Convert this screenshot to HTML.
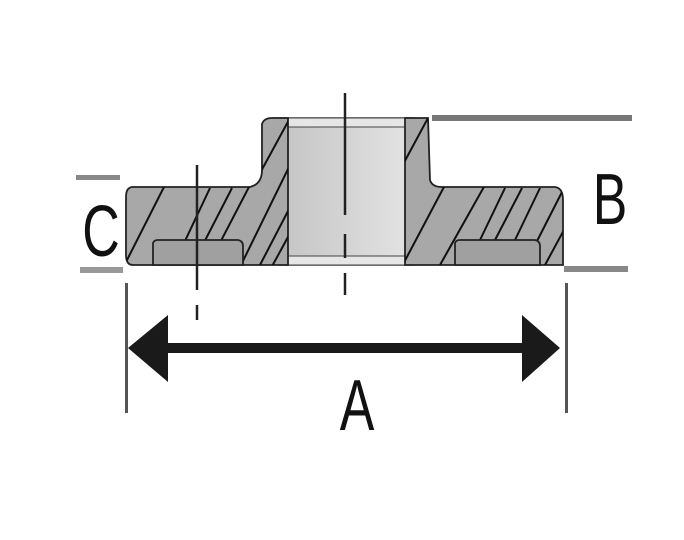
<!DOCTYPE html>
<html><head><style>html,body{margin:0;padding:0;background:#fff}svg{display:block}</style></head><body>
<svg width="684" height="540" viewBox="0 0 684 540" xmlns="http://www.w3.org/2000/svg">
<defs>
<linearGradient id="bore" x1="0" x2="1"><stop offset="0" stop-color="#c4c4c4"/><stop offset="1" stop-color="#e4e4e4"/></linearGradient>
<clipPath id="bodyclip"><path d="M133,187 L250,187 Q262,184 262,170 L262,124 Q264,118 272,118 L288,118 L288,265 L133,265 Q126,265 126,255 L126,197 Q126,187 133,187 Z M405,118 L428,118 L430,180 Q432,187 442,187 L555,187 Q563,188 563,200 L563,265 L405,265 Z"/></clipPath>
</defs>
<!-- reference lines -->
<rect x="432" y="115" width="200" height="6" fill="#777"/>
<rect x="564" y="266" width="64" height="6" fill="#888"/>
<rect x="76" y="175" width="44" height="5" fill="#888"/>
<rect x="80" y="267" width="43" height="6" fill="#999"/>
<!-- bore -->
<rect x="280" y="118" width="134" height="147" fill="url(#bore)" stroke="#222" stroke-width="1.5"/>
<rect x="280" y="118" width="134" height="9" fill="#e6e6e6" stroke="#444" stroke-width="1"/>
<rect x="280" y="256" width="134" height="9" fill="#e6e6e6" stroke="#444" stroke-width="1"/>
<!-- body -->
<path d="M133,187 L250,187 Q262,184 262,170 L262,124 Q264,118 272,118 L288,118 L288,265 L133,265 Q126,265 126,255 L126,197 Q126,187 133,187 Z" fill="#a8a8a8" stroke="#222" stroke-width="1.8"/>
<path d="M405,118 L428,118 L430,180 Q432,187 442,187 L555,187 Q563,188 563,200 L563,265 L405,265 Z" fill="#a8a8a8" stroke="#222" stroke-width="1.8"/>
<g clip-path="url(#bodyclip)" stroke="#111" stroke-width="2">
<line x1="126" y1="262" x2="165" y2="185"/>
<line x1="176" y1="260" x2="210" y2="188"/>
<line x1="195" y1="260" x2="232" y2="188"/>
<line x1="211" y1="260" x2="250" y2="185"/>
<line x1="241" y1="265" x2="290" y2="165"/>
<line x1="260" y1="265" x2="300" y2="188"/>
<line x1="259" y1="175" x2="290" y2="118"/>
<line x1="270" y1="270" x2="300" y2="215"/>
<line x1="400" y1="170" x2="428" y2="118"/>
<line x1="400" y1="270" x2="445" y2="185"/>
<line x1="440" y1="265" x2="485" y2="185"/>
<line x1="480" y1="240" x2="505" y2="188"/>
<line x1="495" y1="240" x2="522" y2="188"/>
<line x1="515" y1="240" x2="540" y2="188"/>
<line x1="535" y1="245" x2="562" y2="192"/>
<line x1="545" y1="265" x2="565" y2="228"/>
</g>
<!-- recesses -->
<path d="M153,265 L153,243 Q154,240 158,240 L238,240 Q243,241 243,246 L243,265 Z" fill="#a0a0a0" stroke="#222" stroke-width="1.8"/>
<path d="M455,265 L455,243 Q456,240 460,240 L535,240 Q540,241 540,246 L540,265 Z" fill="#a0a0a0" stroke="#222" stroke-width="1.8"/>
<!-- center lines -->
<g stroke="#222" stroke-width="2.5">
<line x1="345" y1="93" x2="345" y2="215"/>
<line x1="345" y1="234" x2="345" y2="258"/>
<line x1="345" y1="273" x2="345" y2="295"/>
<line x1="197" y1="165" x2="197" y2="290"/>
<line x1="197" y1="305" x2="197" y2="320"/>
</g>
<!-- dimension A -->
<rect x="125" y="283" width="3" height="130" fill="#555"/>
<rect x="565" y="283" width="3" height="130" fill="#555"/>
<rect x="160" y="343" width="370" height="10" fill="#1a1a1a"/>
<polygon points="128,348 168,315 168,382" fill="#1a1a1a"/>
<polygon points="560,348 522,315 522,382" fill="#1a1a1a"/>
<g font-family="Liberation Sans, sans-serif" fill="#111" font-size="72">
<text x="357" y="430" text-anchor="middle" transform="translate(357 0) scale(0.72 1) translate(-357 0)">A</text>
<text x="610" y="224" text-anchor="middle" transform="translate(610 0) scale(0.72 1) translate(-610 0)">B</text>
<text x="101" y="256" text-anchor="middle" transform="translate(101 0) scale(0.72 1) translate(-101 0)">C</text>
</g>
</svg>
</body></html>
